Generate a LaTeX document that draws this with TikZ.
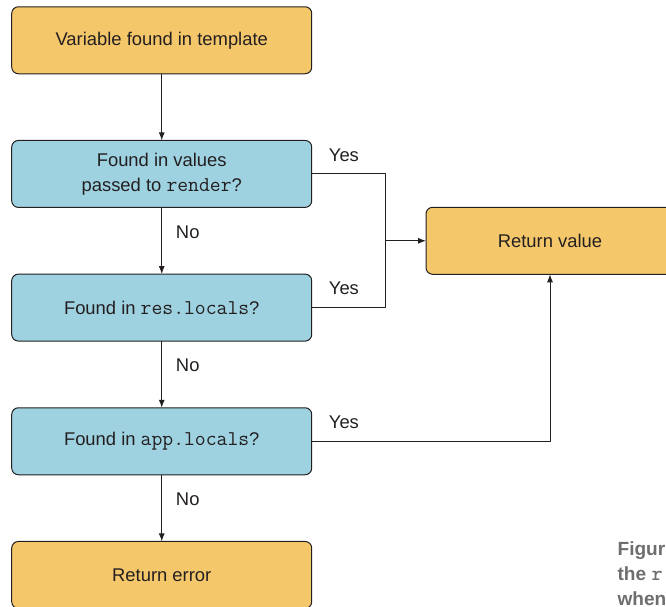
\documentclass[tikz,border=0pt]{standalone}
\usepackage{fontspec}
\setmainfont{Liberation Sans}
\usetikzlibrary{positioning,arrows.meta}
\definecolor{boxorange}{HTML}{F4C76B}
\definecolor{boxblue}{HTML}{9ED2E1}
\definecolor{inkgray}{HTML}{231F20}
\definecolor{capgray}{HTML}{6D6E70}
\newcommand{\codetxt}[1]{{\ttfamily\fontsize{15.8pt}{18pt}\selectfont #1}}
\begin{document}
\begin{tikzpicture}[line join=round, >={Latex[length=6pt,width=4.5pt]}, x=1pt, y=1pt,
	node distance=50pt,
	every node/.style={text=inkgray, font=\fontsize{13.8pt}{18.75pt}\selectfont},
	flow/.style={draw=inkgray, line width=.75pt, rounded corners=5pt, minimum width=225pt, minimum height=50.25pt, align=center, inner sep=0pt, outer sep=0pt},
	endbox/.style={flow, fill=boxorange},
	askbox/.style={flow, fill=boxblue},
	lbl/.style={inner sep=0pt, anchor=base west},
	wire/.style={draw=inkgray, line width=.75pt},
	caption/.style={inner sep=0pt, anchor=base west, text=capgray, font=\bfseries\fontsize{14.3pt}{18.75pt}\selectfont}]
		\useasboundingbox (0,0) rectangle (499.5,454.5);
		% the chain of lookups
		\node[endbox] (found) at (121.3,424.3) {Variable found in template};
		\node[askbox, below=of found] (inrender) {Found in values\\passed to \codetxt{render}?};
		\node[askbox, below=of inrender] (inres) {Found in \codetxt{res.locals}?};
		\node[askbox, below=of inres] (inapp) {Found in \codetxt{app.locals}?};
		\node[endbox, below=of inapp] (error) {Return error};
		\node[endbox, minimum width=186pt] (value) at (412.5,273.9) {Return value};
		\coordinate[left=30.75pt of value.west] (join);
		% No branches
		\draw[wire,->] (found) -- (inrender);
		\draw[wire,->] (inrender) -- (inres) node[lbl, midway, xshift=10.3pt, yshift=2pt] {No};
		\draw[wire,->] (inres) -- (inapp) node[lbl, midway, xshift=10.3pt, yshift=2pt] {No};
		\draw[wire,->] (inapp) -- (error) node[lbl, midway, xshift=10.3pt, yshift=2pt] {No};
		% Yes branches
		\draw[wire] (inrender.east) node[lbl, xshift=12.5pt, yshift=9.5pt] {Yes} -| (join);
		\draw[wire] (inres.east) node[lbl, xshift=12.5pt, yshift=9.5pt] {Yes} -| (join);
		\draw[wire,->] (join) -- (value.west);
		\draw[wire,->] (inapp.east) node[lbl, xshift=12.5pt, yshift=9.5pt] {Yes} -| (value.south);
		% caption, cut by the page edge
		\node[caption] (capfig) at (463,38.25) {Figure};
		\node[caption] (capthe) at (463,19.5) {the \codetxt{r}};
		\node[caption] (capwhen) at (463,0.75) {when};
\end{tikzpicture}
\end{document}
